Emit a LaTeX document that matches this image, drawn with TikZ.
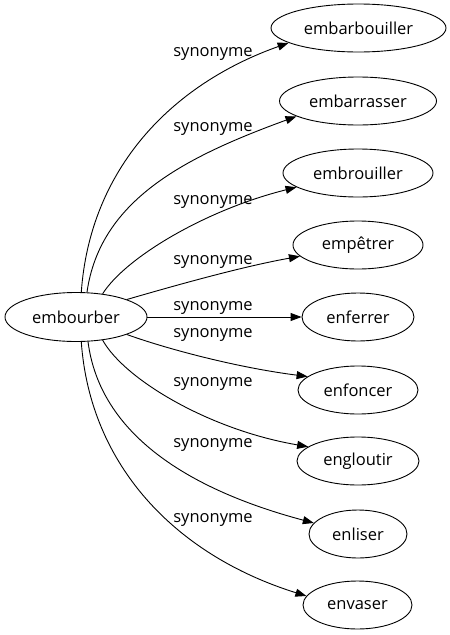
\documentclass[tikz,border=0pt]{standalone}
\usepackage{fontspec}
\setmainfont{Open Sans}
\usetikzlibrary{shapes.geometric,arrows.meta}
\begin{document}
\begin{tikzpicture}[x=1pt,y=-1pt,
  word/.style={ellipse,draw,line width=0.9pt,inner sep=0pt,minimum height=48pt,font=\fontsize{16.5}{18}\selectfont},
  lab/.style={inner sep=0pt,font=\fontsize{16.5}{18}\selectfont},
  syn/.style={line width=0.9pt,-{Triangle[length=11pt,width=8pt]}}]
\useasboundingbox (0,0) rectangle (450,635);
\node[word,minimum width=142pt,minimum height=49pt] (src) at (76,317) {embourber};
\node[word,minimum width=175pt] (t1) at (358.5,28) {embarbouiller};
\node[word,minimum width=157pt] (t2) at (358,101) {embarrasser};
\node[word,minimum width=150pt] (t3) at (358,173) {embrouiller};
\node[word,minimum width=130pt] (t4) at (358,245) {empêtrer};
\node[word,minimum width=112pt] (t5) at (358,317) {enferrer};
\node[word,minimum width=120pt] (t6) at (358,390) {enfoncer};
\node[word,minimum width=122pt] (t7) at (358,461) {engloutir};
\node[word,minimum width=98pt] (t8) at (358,534) {enliser};
\node[word,minimum width=109pt] (t9) at (357.5,605) {envaser};
\node[lab] (l1) at (213,54) {synonyme};
\node[lab] (l2) at (213,129) {synonyme};
\node[lab] (l3) at (213,202) {synonyme};
\node[lab] (l4) at (213,262) {synonyme};
\node[lab] (l5) at (213,308) {synonyme};
\node[lab] (l6) at (213,335) {synonyme};
\node[lab] (l7) at (213,384) {synonyme};
\node[lab] (l8) at (213,445) {synonyme};
\node[lab] (l9) at (213,520) {synonyme};
\draw[syn] (src.78) .. controls (90,170) and (170,85) .. (t1.192);
\draw[syn] (src.66) .. controls (100,200) and (185,157) .. (t2.194);
\draw[syn] (src.41) .. controls (125,258) and (205,210) .. (t3.193);
\draw[syn] (src.19) .. controls (170,287) and (240,267) .. (t4.191);
\draw[syn] (src.east) -- (t5.west);
\draw[syn] (src.-19) .. controls (170,350) and (240,368) .. (t6.165);
\draw[syn] (src.-41) .. controls (125,380) and (210,430) .. (t7.164);
\draw[syn] (src.-64) .. controls (100,435) and (190,490) .. (t8.166);
\draw[syn] (src.-78) .. controls (90,465) and (175,555) .. (t9.170);
\end{tikzpicture}
\end{document}
